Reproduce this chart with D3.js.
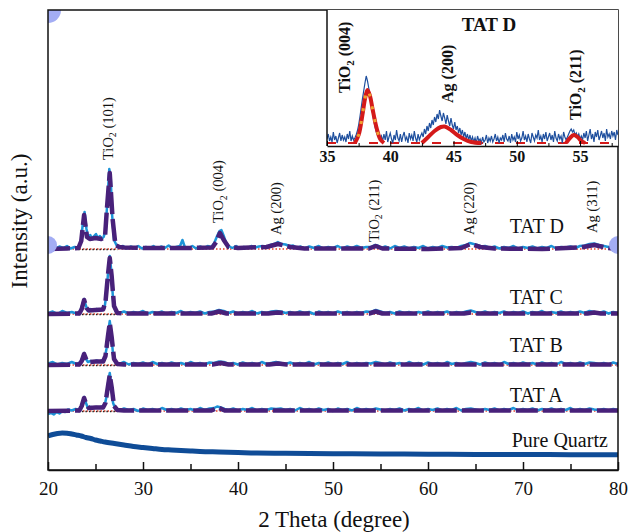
<!DOCTYPE html>
<html>
<head>
<meta charset="utf-8">
<script src="https://cdn.jsdelivr.net/npm/d3@7"></script>
<style>
  body { margin: 0; background: #fff; }
  svg { display: block; font-family: "Liberation Serif", "Times New Roman", serif; }
</style>
</head>
<body>
<div id="chart"></div>
<script>
// XRD patterns, 2 theta (degree) vs intensity (a.u.), each TAT trace relative to its own baseline
const sampleNames = ['TAT D', 'TAT C', 'TAT B', 'TAT A'];
const sampleOffsets = [221, 156, 105, 59];
const sampleLabelLift = [16, 10, 13, 9];

const tatDRaw = [[20,1.5],[20.4,3],[20.8,0.5],[21.2,2.5],[21.6,1],[22,3],[22.4,0.5],[22.8,2],[23.2,1.5],[23.45,6],[23.65,24],[23.85,37],[24.05,20],[24.25,11],[24.45,14],[24.65,10],[24.85,13],[25.05,15],[25.25,11],[25.45,13],[25.65,10],[25.85,12],[26.05,18],[26.25,48],[26.45,80],[26.6,72],[26.75,34],[26.95,9],[27.2,4],[27.5,1.5],[27.9,3],[28.3,0.5],[28.7,2.5],[29.1,1],[29.5,3],[29.9,0.5],[30.3,2],[30.7,1],[31.1,3],[31.5,0.5],[31.9,2.5],[32.3,1],[32.7,3.5],[33.1,0.5],[33.5,2],[33.9,3],[34.15,9],[34.4,2],[34.8,1],[35.2,3],[35.6,0.5],[36,2.5],[36.4,1],[36.8,3],[37.2,2],[37.5,6],[37.8,13],[38.05,18],[38.25,19],[38.5,13],[38.75,6],[39,3],[39.4,1],[39.8,3],[40.2,0.5],[40.6,2],[41,1],[41.4,3],[41.8,1.5],[42.2,2.5],[42.6,3],[43,2],[43.4,4],[43.8,5],[44.2,7],[44.6,5],[45,4.5],[45.4,3],[45.8,3.5],[46.2,1],[46.6,2.5],[47,0.5],[47.5,2.5],[48,1],[48.5,3],[49,0.5],[49.5,2],[50,1],[50.5,3],[51,0.5],[51.5,2.5],[52,1],[52.5,3],[53,1],[53.5,2],[54,2],[54.4,4],[54.7,3.5],[55.1,1],[55.5,2.5],[56,0.5],[56.5,3],[57,1],[57.5,2.5],[58,0.5],[58.5,2],[59,1],[59.5,3],[60,0.5],[60.5,2],[61,1],[61.5,3],[62,1.5],[62.5,2],[63,1],[63.5,3],[64,4],[64.4,6],[64.8,5],[65.2,4],[65.6,2.5],[66,3],[66.5,1],[67,2.5],[67.5,0.5],[68,2],[68.5,1],[69,3],[69.5,0.5],[70,2],[70.5,1],[71,2.5],[71.5,0.5],[72,2],[72.5,1],[73,3],[73.5,0.5],[74,2],[74.5,1.5],[75,2.5],[75.5,1],[76,3],[76.5,3.5],[77,5],[77.5,5.5],[78,4],[78.5,3],[79,2],[79.5,1],[80,1.5]];
const tatDFit = [[20,0],[22,0.5],[23.2,1],[23.5,8],[23.8,34],[24.1,12],[24.4,10],[25,11],[25.6,10],[26.0,12],[26.2,40],[26.5,76],[26.8,30],[27.1,4],[27.5,2],[28,1.5],[30,1],[33,1],[35,1],[37.3,1.5],[37.7,7],[38.1,16],[38.5,9],[39,2],[40,1],[43,2],[44.2,5],[45.5,2],[47,0.5],[50,0.5],[53.8,0.5],[54.5,3],[55.2,0.5],[60,0],[63.5,1],[64.5,5],[65.5,2],[67,0.5],[72,0],[76,1.5],[77.5,4],[79,1],[80,0]];

const tatCRaw = [[20,1],[20.5,2.5],[21,0],[21.5,3],[22,1],[22.5,2],[23,0.5],[23.4,3],[23.6,9],[23.8,15],[24.0,8],[24.2,3],[24.5,5],[24.8,3.5],[25.1,5],[25.4,4],[25.7,5.5],[25.95,6],[26.15,20],[26.35,45],[26.5,58],[26.65,44],[26.85,14],[27.1,3],[27.5,1],[28,2.5],[28.5,0.5],[29,2],[29.5,1],[30,3],[30.5,0.5],[31,2],[31.5,1],[32,2.5],[32.5,0],[33,2],[33.5,1],[34,3],[34.5,0.5],[35,2],[35.5,1],[36,2.5],[36.5,0.5],[37,2],[37.5,2.5],[38,4],[38.5,3],[39,1],[39.5,2.5],[40,0.5],[40.5,2],[41,1],[41.5,3],[42,0.5],[42.5,2],[43,1],[43.5,2.5],[44,3],[44.5,2.5],[45,1],[45.5,2],[46,0.5],[46.5,2.5],[47,1],[47.5,2],[48,0],[48.5,2.5],[49,1],[49.5,2],[50,0.5],[50.5,2.5],[51,1],[51.5,2],[52,0.5],[52.5,2],[53,1],[53.5,2.5],[54,2],[54.5,4],[55,2.5],[55.5,1],[56,2],[56.5,0.5],[57,2.5],[57.5,1],[58,2],[58.5,0.5],[59,2],[59.5,1],[60,2.5],[60.5,0.5],[61,2],[61.5,1],[62,2.5],[62.5,0.5],[63,2],[63.5,1],[64,2.5],[64.5,3.5],[65,2],[65.5,1],[66,2.5],[66.5,0.5],[67,2],[67.5,1],[68,2.5],[68.5,0.5],[69,2],[69.5,1],[70,2.5],[70.5,0.5],[71,2],[71.5,1],[72,3],[72.5,0.5],[73,2],[73.5,1],[74,2.5],[74.5,0.5],[75,2],[75.5,1],[76,2.5],[76.5,1],[77,3],[77.5,2],[78,1],[78.5,2.5],[79,0.5],[79.5,2],[80,1]];
const tatCFit = [[20,0],[23.3,0.5],[23.55,5],[23.8,14],[24.05,6],[24.3,3.5],[25,4],[25.8,4.5],[26.05,12],[26.3,38],[26.5,56],[26.7,38],[26.95,8],[27.3,1],[28,0.5],[37.2,0.5],[38,2.5],[38.8,0.5],[43.2,0.5],[44.2,1.5],[45.2,0.5],[53.8,0.5],[54.5,2.5],[55.2,0.5],[63.8,0.5],[64.5,1.5],[65.2,0.5],[76.8,0.5],[77.5,1.5],[78.2,0.5],[80,0.5]];

const tatBRaw = [[20,1.5],[20.5,3],[21,0.5],[21.5,2],[22,1],[22.5,3],[23,1],[23.4,2.5],[23.6,7],[23.8,12],[24.0,6],[24.2,3],[24.5,4],[24.8,3],[25.1,4.5],[25.4,3.5],[25.7,4.5],[25.95,5],[26.15,16],[26.35,34],[26.5,44],[26.65,33],[26.85,10],[27.1,2.5],[27.5,1],[28,3],[28.5,0.5],[29,2],[29.5,1],[30,2.5],[30.5,0.5],[31,3],[31.5,1],[32,2],[32.5,0.5],[33,2.5],[33.5,1],[34,2],[34.5,0.5],[35,3],[35.5,1],[36,2],[36.5,0.5],[37,2.5],[37.5,2],[38,3.5],[38.5,3],[39,1],[39.5,2],[40,0.5],[40.5,2.5],[41,1],[41.5,2],[42,0.5],[42.5,3],[43,1],[43.5,2],[44,3],[44.5,2],[45,1],[45.5,2.5],[46,0.5],[46.5,2],[47,1],[47.5,3],[48,0.5],[48.5,2],[49,1],[49.5,2.5],[50,0.5],[50.5,2],[51,1],[51.5,3],[52,0.5],[52.5,2],[53,1],[53.5,2],[54,1.5],[54.5,3],[55,2],[55.5,0.5],[56,2.5],[56.5,1],[57,2],[57.5,0.5],[58,3],[58.5,1],[59,2],[59.5,0.5],[60,2.5],[60.5,1],[61,2],[61.5,0.5],[62,3],[62.5,1],[63,2],[63.5,0.5],[64,2],[64.5,3],[65,2],[65.5,0.5],[66,2.5],[66.5,1],[67,2],[67.5,0.5],[68,3],[68.5,1],[69,2],[69.5,0.5],[70,2.5],[70.5,1],[71,2],[71.5,0.5],[72,2.5],[72.5,1],[73,2],[73.5,0.5],[74,3],[74.5,1],[75,2],[75.5,0.5],[76,2.5],[76.5,1],[77,2.5],[77.5,2],[78,1],[78.5,2],[79,0.5],[79.5,2.5],[80,1]];
const tatBFit = [[20,0],[23.3,0.5],[23.55,4],[23.8,11],[24.05,5],[24.3,3],[25,3.5],[25.8,3.5],[26.05,9],[26.3,28],[26.5,42],[26.7,28],[26.95,6],[27.3,1],[28,0.5],[37.3,0.5],[38.2,2],[39,0.5],[43.3,0.5],[44.2,1.5],[45.1,0.5],[80,0.5]];

const tatARaw = [[20,-3],[20.3,-2],[20.6,-3.5],[20.9,-1],[21.2,-2.5],[21.5,0],[21.8,-1],[22.1,1.5],[22.5,0.5],[22.9,2],[23.3,1],[23.55,6],[23.8,14],[24.0,8],[24.2,3],[24.5,4],[24.8,3],[25.1,4],[25.4,3.5],[25.7,4.5],[25.95,5],[26.15,14],[26.35,30],[26.5,38],[26.65,28],[26.85,8],[27.1,2],[27.5,0.5],[28,2.5],[28.5,1],[29,2],[29.5,0],[30,2.5],[30.5,1],[31,2],[31.5,0.5],[32,3],[32.5,1],[33,2],[33.5,0.5],[34,2.5],[34.5,1],[35,2],[35.5,0.5],[36,3],[36.5,1],[37,2.5],[37.5,3],[37.8,4.5],[38.2,3.5],[38.6,2],[39,1],[39.5,2.5],[40,0.5],[40.5,2],[41,1],[41.5,3],[42,0.5],[42.5,2],[43,1],[43.5,2.5],[44,2],[44.5,2.5],[45,1],[45.5,2],[46,0.5],[46.5,3],[47,1],[47.5,2],[48,0.5],[48.5,2.5],[49,1],[49.5,2],[50,0],[50.5,2.5],[51,1],[51.5,2],[52,0.5],[52.5,3],[53,1],[53.5,2],[54,1],[54.5,2.5],[55,1.5],[55.5,0.5],[56,2],[56.5,1],[57,2.5],[57.5,0.5],[58,2],[58.5,1],[59,3],[59.5,0.5],[60,2],[60.5,1],[61,2.5],[61.5,0.5],[62,2],[62.5,1],[63,3],[63.5,0.5],[64,2],[64.5,2.5],[65,1.5],[65.5,0.5],[66,2],[66.5,1],[67,2.5],[67.5,0.5],[68,2],[68.5,1],[69,3],[69.5,0.5],[70,2],[70.5,1],[71,2.5],[71.5,0.5],[72,2],[72.5,1],[73,2.5],[73.5,0.5],[74,2],[74.5,1],[75,3],[75.5,0.5],[76,2],[76.5,1],[77,2.5],[77.5,1.5],[78,1],[78.5,2],[79,0.5],[79.5,2],[80,1]];
const tatAFit = [[20,0],[23.3,0.5],[23.55,5],[23.8,13],[24.05,6],[24.3,3],[25,3.5],[25.8,3.5],[26.05,8],[26.3,24],[26.5,36],[26.7,24],[26.95,5],[27.3,1],[28,0.5],[37.2,0.5],[37.9,3.5],[38.6,0.5],[80,0.5]];

// pure quartz substrate, absolute intensity
const quartzData = [[20,34],[20.5,35.5],[21,36.5],[21.5,37],[22,36.8],[22.5,36],[23,35],[23.5,34],[24,32.5],[24.5,31.5],[25,30],[25.5,29],[26,28],[27,26.5],[28,25],[29,23.5],[30,22.5],[31,21.5],[32,20.5],[33,20],[34,19.5],[35,19],[36,18.5],[38,18],[40,17.5],[42,17],[45,16.8],[50,16.3],[55,16],[60,15.8],[65,15.5],[70,15.5],[75,15.3],[80,15.2]];

// peak labels: 2 theta and level (a.u.) of the label foot
const peakLabels = [
    { name: 'TiO', sub: '2', rest: ' (101)', theta: 26.5, level: 310 },
    { name: 'TiO', sub: '2', rest: ' (004)', theta: 38.1, level: 247 },
    { name: 'Ag', sub: '', rest: ' (200)', theta: 44.2, level: 235 },
    { name: 'TiO', sub: '2', rest: ' (211)', theta: 54.5, level: 228 },
    { name: 'Ag', sub: '', rest: ' (220)', theta: 64.5, level: 235 },
    { name: 'Ag', sub: '', rest: ' (311)', theta: 77.5, level: 237 }
];

const xTicksMajor = [20, 30, 40, 50, 60, 70, 80];
const xTicksMinor = [25, 35, 45, 55, 65, 75];

// inset: TAT D, 35-58 degree, raw counts on a 0.1 degree step
const insetStart = 35;
const insetStep = 0.1;
const insetRaw = [4,9,2,6,1,11,3,7,0,5,10,2,8,3,6,1,9,4,12,2,7,3,5,
    8,12,18,26,35,44,52,60,67,62,55,47,38,30,22,16,11,8,10,4,7,
    2,9,3,12,1,6,10,4,0,8,3,13,5,2,9,1,7,11,3,6,0,10,4,8,2,12,5,1,9,3,7,
    10,6,14,9,17,12,20,15,23,18,26,21,29,24,33,27,22,30,25,19,28,22,17,25,18,14,21,13,17,10,15,8,13,6,11,4,9,3,8,2,6,
    1,5,0,7,2,4,0,6,1,3,8,0,5,2,7,1,4,9,2,6,0,5,3,8,1,10,4,2,7,0,9,3,6,1,11,4,8,2,5,12,3,7,1,9,4,0,10,6,2,8,5,13,3,7,1,9,4,11,2,6,10,3,8,1,12,5,2,9,4,7,0,11,6,3,
    6,9,12,14,11,13,8,10,6,9,4,7,
    3,10,5,12,2,8,14,4,9,1,11,6,13,3,7,12,5,10,2,14,6,9,4,12,7,11,3,13,8];
const insetFits = [
    [[37.2,0],[37.5,8],[37.8,28],[38.0,44],[38.2,53],[38.4,47],[38.6,34],[38.9,16],[39.2,4],[39.5,0]],
    [[42.5,0],[43.0,6],[43.5,12],[44.0,16],[44.3,16.5],[44.8,13],[45.3,8],[45.8,4],[46.4,1],[47.2,0]],
    [[53.9,0],[54.2,5],[54.5,8],[54.8,6],[55.1,2],[55.4,0]]
];
const insetLabels = [
    { name: 'TiO', sub: '2', rest: ' (004)', theta: 36.4, level: 50 },
    { name: 'Ag', sub: '', rest: ' (200)', theta: 44.5, level: 40 },
    { name: 'TiO', sub: '2', rest: ' (211)', theta: 54.6, level: 23 }
];
const insetTicks = [35, 40, 45, 50, 55];
const insetMinor = [37.5, 42.5, 47.5, 52.5, 57.5];

const width = 629;
const height = 532;
const margin = { top: 10, right: 11, bottom: 62, left: 48 };

const svg = d3.select('#chart')
    .append('svg')
    .attr('width', width)
    .attr('height', height);

const x = d3.scaleLinear()
    .domain([20, 80])
    .range([margin.left, width - margin.right]);

const y = d3.scaleLinear()
    .domain([0, 460])
    .range([height - margin.bottom, margin.top]);

svg.append('clipPath').attr('id', 'plotClip')
    .append('rect')
    .attr('x', x(20)).attr('y', y(460))
    .attr('width', x(80) - x(20)).attr('height', y(0) - y(460));

const plot = svg.append('g').attr('clip-path', 'url(#plotClip)');

const purple = '#48217a';
const lightBlue = '#1d94d8';

const series = [
    { raw: tatDRaw, fit: tatDFit },
    { raw: tatCRaw, fit: tatCFit },
    { raw: tatBRaw, fit: tatBFit },
    { raw: tatARaw, fit: tatAFit }
];

series.forEach((s, i) => {
    const off = sampleOffsets[i];
    const lineMaker = d3.line()
        .x(d => x(d[0]))
        .y(d => y(d[1] + off));

    const g = plot.append('g').attr('class', 'sample');

    // red dotted baseline
    g.append('line')
        .attr('x1', x(20)).attr('x2', x(80))
        .attr('y1', y(off)).attr('y2', y(off))
        .attr('stroke', '#e8432e')
        .attr('stroke-width', 1.5)
        .attr('stroke-dasharray', '1.5,2');

    // black dotted baseline under the low-angle peaks
    g.append('line')
        .attr('x1', x(23.2)).attr('x2', x(27.3))
        .attr('y1', y(off) + 0.5).attr('y2', y(off) + 0.5)
        .attr('stroke', '#222')
        .attr('stroke-width', 1.5)
        .attr('stroke-dasharray', '1.5,2');

    g.append('path')
        .attr('d', lineMaker(s.raw))
        .attr('fill', 'none')
        .attr('stroke', lightBlue)
        .attr('stroke-width', 2.5)
        .attr('stroke-linejoin', 'round');

    g.append('path')
        .attr('d', lineMaker(s.fit))
        .attr('fill', 'none')
        .attr('stroke', purple)
        .attr('stroke-width', 4.5)
        .attr('stroke-linejoin', 'round')
        .attr('stroke-dasharray', '22,5');

    svg.append('text')
        .attr('x', x(68.5) + 1)
        .attr('y', y(off + sampleLabelLift[i]))
        .attr('font-size', 20)
        .attr('fill', '#111')
        .text(sampleNames[i]);
});

plot.append('path')
    .attr('d', d3.line().x(d => x(d[0])).y(d => y(d[1])).curve(d3.curveMonotoneX)(quartzData))
    .attr('fill', 'none')
    .attr('stroke', '#0f4c97')
    .attr('stroke-width', 5);

svg.append('text')
    .attr('x', x(68.5) + 3)
    .attr('y', y(23))
    .attr('font-size', 20)
    .attr('fill', '#111')
    .text('Pure Quartz');

// rotated peak labels
function addRotatedLabel(parent, d, px, py, size, weight) {
    const t = parent.append('text')
        .attr('transform', `translate(${px},${py}) rotate(-90)`)
        .attr('dy', '0.35em')
        .attr('font-size', size)
        .attr('font-weight', weight)
        .attr('fill', '#111');
    t.append('tspan').text(d.name);
    if (d.sub) {
        t.append('tspan').attr('font-size', size * 0.68).attr('dy', size * 0.25).text(d.sub);
        t.append('tspan').attr('dy', -size * 0.25).text(d.rest);
    } else {
        t.append('tspan').text(d.rest);
    }
}

peakLabels.forEach(d => addRotatedLabel(svg, d, x(d.theta) - 2, y(d.level), 14.5, 'normal'));

// selection handles left over in the picture
const handles = [[20, 460, 13], [80, 460, 13], [20, 225, 9], [80, 225, 9]];
plot.selectAll('circle.handle')
    .data(handles)
    .enter()
    .append('circle')
    .attr('class', 'handle')
    .attr('cx', d => x(d[0]))
    .attr('cy', d => y(d[1]))
    .attr('r', d => d[2])
    .attr('fill', '#a3adf4');

// frame
svg.append('rect')
    .attr('x', x(20)).attr('y', y(460))
    .attr('width', x(80) - x(20)).attr('height', y(0) - y(460))
    .attr('fill', 'none')
    .attr('stroke', '#111')
    .attr('stroke-width', 1.5);

// X axis
const xAxis = svg.append('g')
    .classed('x axis', true)
    .attr('transform', `translate(0, ${y(0)})`)
    .call(d3.axisBottom(x)
        .tickValues(xTicksMajor)
        .tickSize(-8)
        .tickSizeOuter(0)
        .tickPadding(12)
        .tickFormat(d3.format('d')));

svg.append('g')
    .attr('transform', `translate(0, ${y(0)})`)
    .call(d3.axisBottom(x)
        .tickValues(xTicksMinor)
        .tickSize(-6)
        .tickSizeOuter(0)
        .tickFormat(''))
    .select('.domain').remove();

svg.selectAll('.tick line').attr('stroke', '#111').attr('stroke-width', 1.5);
xAxis.select('.domain').attr('stroke', '#111').attr('stroke-width', 1.5);
xAxis.selectAll('text')
    .attr('font-family', '"Liberation Serif", "Times New Roman", serif')
    .attr('font-size', 19)
    .attr('fill', '#111');

svg.append('text')
    .attr('x', (x(20) + x(80)) / 2 + 1)
    .attr('y', 527)
    .attr('text-anchor', 'middle')
    .attr('font-size', 23)
    .attr('fill', '#111')
    .text('2 Theta (degree)');

svg.append('text')
    .attr('transform', `translate(19, ${(y(0) + y(460)) / 2 - 19}) rotate(-90)`)
    .attr('text-anchor', 'middle')
    .attr('dy', '0.35em')
    .attr('font-size', 23)
    .attr('fill', '#111')
    .text('Intensity (a.u.)');

// ---- inset ----
const ix = d3.scaleLinear()
    .domain([35, 58])
    .range([327, x(80)]);

const iy = d3.scaleLinear()
    .domain([-3, 133])
    .range([146, y(460)]);

svg.append('rect')
    .attr('x', ix(35)).attr('y', iy(133))
    .attr('width', ix(58) - ix(35)).attr('height', iy(-3) - iy(133))
    .attr('fill', '#fff');

svg.append('clipPath').attr('id', 'insetClip')
    .append('rect')
    .attr('x', ix(35)).attr('y', iy(133))
    .attr('width', ix(58) - ix(35)).attr('height', iy(-3) - iy(133));

const inset = svg.append('g').attr('clip-path', 'url(#insetClip)');

inset.append('line')
    .attr('x1', ix(35)).attr('x2', ix(58))
    .attr('y1', iy(0)).attr('y2', iy(0))
    .attr('stroke', '#d41a1a')
    .attr('stroke-width', 2)
    .attr('stroke-dasharray', '9,12');

inset.append('path')
    .attr('d', d3.line()
        .x((d, i) => ix(insetStart + i * insetStep))
        .y(d => iy(d))(insetRaw))
    .attr('fill', 'none')
    .attr('stroke', '#1e4f9e')
    .attr('stroke-width', 1.2);

const fitLine = d3.line()
    .x(d => ix(d[0]))
    .y(d => iy(d[1]))
    .curve(d3.curveCatmullRom);

inset.selectAll('path.fit')
    .data(insetFits)
    .enter()
    .append('path')
    .attr('class', 'fit')
    .attr('d', fitLine)
    .attr('fill', 'none')
    .attr('stroke', '#d41a1a')
    .attr('stroke-width', 4);

inset.append('path')
    .attr('d', fitLine(insetFits[0]))
    .attr('fill', 'none')
    .attr('stroke', '#f0a030')
    .attr('stroke-width', 3)
    .attr('stroke-dasharray', '3,10')
    .attr('stroke-dashoffset', -20);

// inset frame: left border and bottom axis
svg.append('line')
    .attr('x1', ix(35)).attr('x2', ix(35))
    .attr('y1', iy(133)).attr('y2', iy(-3))
    .attr('stroke', '#111').attr('stroke-width', 1.5);

const insetAxis = svg.append('g')
    .attr('transform', `translate(0, ${iy(-3)})`)
    .call(d3.axisBottom(ix)
        .tickValues(insetTicks)
        .tickSize(-5)
        .tickSizeOuter(0)
        .tickPadding(5)
        .tickFormat(d3.format('d')));

svg.append('g')
    .attr('transform', `translate(0, ${iy(-3)})`)
    .call(d3.axisBottom(ix)
        .tickValues(insetMinor)
        .tickSize(-3)
        .tickSizeOuter(0)
        .tickFormat(''))
    .select('.domain').remove();

insetAxis.select('.domain').attr('stroke', '#111').attr('stroke-width', 1.5);
insetAxis.selectAll('text')
    .attr('font-family', '"Liberation Serif", "Times New Roman", serif')
    .attr('font-size', 16)
    .attr('font-weight', 'bold')
    .attr('fill', '#111');

svg.append('text')
    .attr('x', ix(47.8))
    .attr('y', iy(112))
    .attr('text-anchor', 'middle')
    .attr('font-size', 19)
    .attr('font-weight', 'bold')
    .attr('fill', '#111')
    .text('TAT D');

insetLabels.forEach(d => addRotatedLabel(svg, d, ix(d.theta), iy(d.level), 16, 'bold'));
</script>
</body>
</html>
